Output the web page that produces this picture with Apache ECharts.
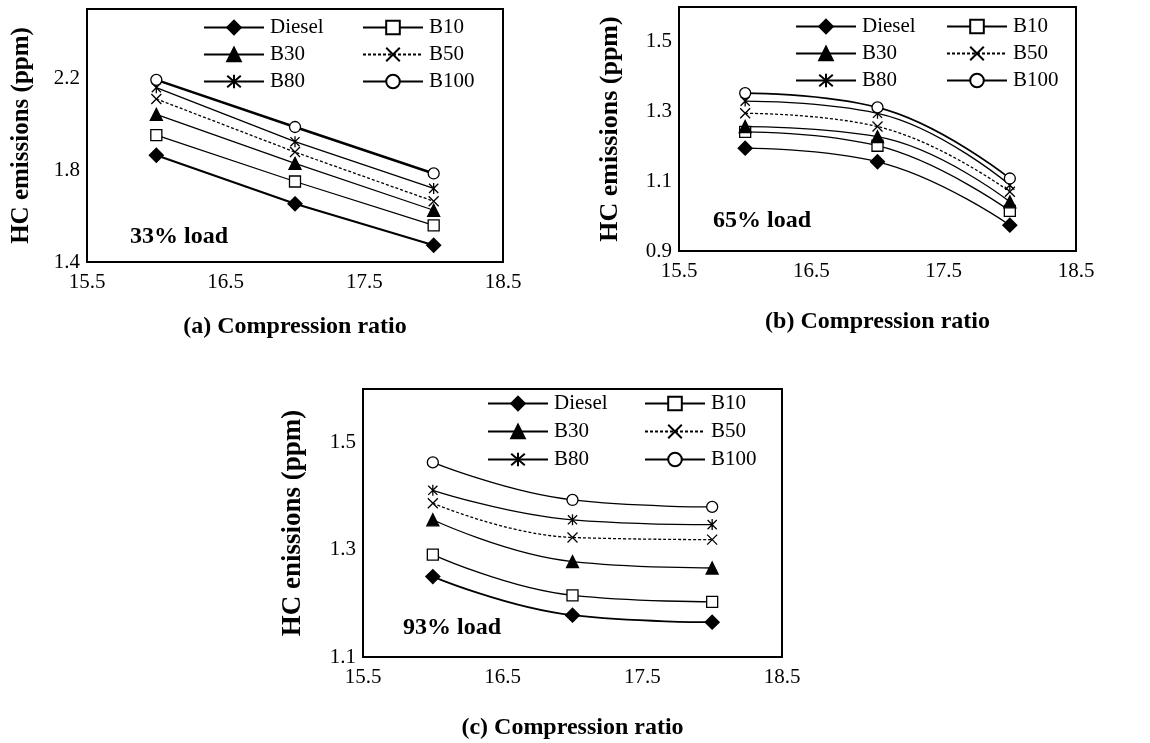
<!DOCTYPE html>
<html>
<head>
<meta charset="utf-8">
<script src="https://cdn.jsdelivr.net/npm/echarts@6.0.0/dist/echarts.min.js"></script>
<style>
html,body{margin:0;padding:0;background:#fff;}
#chart{width:1150px;height:743px;}
</style>
</head>
<body>
<div id="chart"></div>
<script>
// ---------- DATA ----------
const compressionRatios = [16, 17, 18];
const seriesNames = ['Diesel', 'B10', 'B30', 'B50', 'B80', 'B100'];

// (a) 33% load
const dieselA = [1.864, 1.653, 1.473];
const b10A    = [1.952, 1.750, 1.559];
const b30A    = [2.042, 1.829, 1.625];
const b50A    = [2.109, 1.878, 1.664];
const b80A    = [2.158, 1.923, 1.720];
const b100A   = [2.192, 1.987, 1.785];

// (b) 65% load
const dieselB = [1.195, 1.156, 0.974];
const b10B    = [1.242, 1.202, 1.015];
const b30B    = [1.257, 1.228, 1.041];
const b50B    = [1.295, 1.257, 1.070];
const b80B    = [1.330, 1.295, 1.089];
const b100B   = [1.353, 1.312, 1.108];

// (c) 93% load
const dieselC = [1.250, 1.178, 1.165];
const b10C    = [1.291, 1.215, 1.203];
const b30C    = [1.356, 1.278, 1.266];
const b50C    = [1.387, 1.323, 1.319];
const b80C    = [1.411, 1.356, 1.347];
const b100C   = [1.463, 1.393, 1.380];

// tick labels
const xTickLabels = [15.5, 16.5, 17.5, 18.5];
const yTickLabelsA = [1.4, 1.8, 2.2];
const yTickLabelsB = [0.9, 1.1, 1.3, 1.5];
const yTickLabelsC = [1.1, 1.3, 1.5];

const panelTitlesX = ['(a) Compression ratio', '(b) Compression ratio', '(c) Compression ratio'];
const panelTitlesY = ['HC emissions (ppm)', 'HC emissions (ppm)', 'HC enissions (ppm)'];
const loadLabels = ['33% load', '65% load', '93% load'];

// ---------- STYLE ----------
const FONT = '"Liberation Serif", "Times New Roman", serif';
const markerStyles = {
  'Diesel': {symbol: 'diamond', size: 14, fill: '#000', dash: 'solid'},
  'B10':    {symbol: 'rect', size: 11, fill: '#fff', dash: 'solid'},
  'B30':    {symbol: 'triangle', size: 12, fill: '#000', dash: 'solid'},
  'B50':    {symbol: 'path://M0,0L10,10M10,0L0,10', size: 10, fill: '#000', dash: [3, 2]},
  'B80':    {symbol: 'path://M0,0L10,10M10,0L0,10M5,-1L5,11', size: 11, fill: '#000', dash: 'solid'},
  'B100':   {symbol: 'circle', size: 11, fill: '#fff', dash: 'solid'}
};

const panels = [
  {data: [dieselA, b10A, b30A, b50A, b80A, b100A], smooth: false,
   widths: [2, 1.3, 1.3, 1.3, 1.3, 2.5],
   grid: {left: 87, top: 9, width: 416, height: 253},
   yMin: 1.4, yMax: 2.5, yTicks: yTickLabelsA, xGap: 53, yGap: 53, yNameSize: 25,
   loadPos: [130, 225]},
  {data: [dieselB, b10B, b30B, b50B, b80B, b100B], smooth: 0.45,
   widths: [1.3, 1.3, 1.3, 1.3, 1.3, 1.6],
   grid: {left: 679, top: 7, width: 397, height: 244},
   yMin: 0.9, yMax: 1.6, yTicks: yTickLabelsB, xGap: 59, yGap: 56, yNameSize: 26,
   loadPos: [713, 209]},
  {data: [dieselC, b10C, b30C, b50C, b80C, b100C], smooth: 0.45,
   widths: [1.8, 1.3, 1.3, 1.3, 1.3, 1.3],
   grid: {left: 363, top: 389, width: 419, height: 268},
   yMin: 1.1, yMax: 1.6, yTicks: yTickLabelsC, xGap: 59, yGap: 56, yNameSize: 27,
   loadPos: [403, 616]}
];

const legendPos = [
  {cols: [203, 362], top: 17, gap: 6},
  {cols: [795, 946], top: 16, gap: 6},
  {cols: [487, 644], top: 393, gap: 7}
];

function isTick(list, v) {
  return list.some(t => Math.abs(t - v) < 1e-6);
}

const grids = [], xAxes = [], yAxes = [], series = [], legends = [], graphics = [];
panels.forEach((p, i) => {
  grids.push(Object.assign({show: true, borderColor: '#000', borderWidth: 2, backgroundColor: 'transparent'}, p.grid));
  xAxes.push({
    type: 'value', gridIndex: i, min: 15.5, max: 18.5, interval: 0.5,
    axisLine: {show: false}, axisTick: {show: false}, splitLine: {show: false},
    axisLabel: {
      margin: 10, color: '#000', fontFamily: FONT, fontSize: 21,
      showMinLabel: true, showMaxLabel: true,
      formatter: v => isTick(xTickLabels, v) ? v.toFixed(1) : ''
    },
    name: panelTitlesX[i], nameLocation: 'middle', nameGap: p.xGap,
    nameTextStyle: {color: '#000', fontFamily: FONT, fontSize: 24, fontWeight: 'bold'}
  });
  yAxes.push({
    type: 'value', gridIndex: i, min: p.yMin, max: p.yMax, interval: 0.1,
    axisLine: {show: false}, axisTick: {show: false}, splitLine: {show: false},
    axisLabel: {
      margin: 7, color: '#000', fontFamily: FONT, fontSize: 21,
      showMinLabel: true, showMaxLabel: true,
      formatter: v => isTick(p.yTicks, v) ? v.toFixed(1) : ''
    },
    name: panelTitlesY[i], nameLocation: 'middle', nameGap: p.yGap, nameRotate: 90,
    nameTextStyle: {color: '#000', fontFamily: FONT, fontSize: p.yNameSize, fontWeight: 'bold'}
  });
  seriesNames.forEach((name, k) => {
    const m = markerStyles[name];
    series.push({
      type: 'line', name: name, xAxisIndex: i, yAxisIndex: i,
      data: compressionRatios.map((x, j) => [x, p.data[k][j]]),
      smooth: p.smooth,
      symbol: m.symbol, symbolSize: m.size, symbolKeepAspect: true, showAllSymbol: true,
      lineStyle: {color: '#000', width: p.widths[k], type: m.dash},
      itemStyle: {color: m.fill, borderColor: '#000', borderWidth: 1.3},
      emphasis: {disabled: true},
      z: 2 + k
    });
  });
  const lp = legendPos[i];
  [[0, 2, 4], [1, 3, 5]].forEach((idxs, c) => {
    legends.push({
      orient: 'vertical', left: lp.cols[c], top: lp.top, itemGap: lp.gap,
      itemWidth: 60, itemHeight: 17, padding: 0,
      selectedMode: false,
      data: idxs.map(k => seriesNames[k]),
      textStyle: {color: '#000', fontFamily: FONT, fontSize: 21, padding: [0, 0, 0, 1]}
    });
  });
  graphics.push({
    type: 'text', left: p.loadPos[0], top: p.loadPos[1],
    style: {text: loadLabels[i], fill: '#000', font: 'bold 24px ' + FONT}
  });
});

const chart = echarts.init(document.getElementById('chart'), null, {renderer: 'canvas'});
chart.setOption({
  animation: false,
  backgroundColor: '#fff',
  grid: grids, xAxis: xAxes, yAxis: yAxes,
  legend: legends, series: series, graphic: graphics
});
</script>
</body>
</html>
